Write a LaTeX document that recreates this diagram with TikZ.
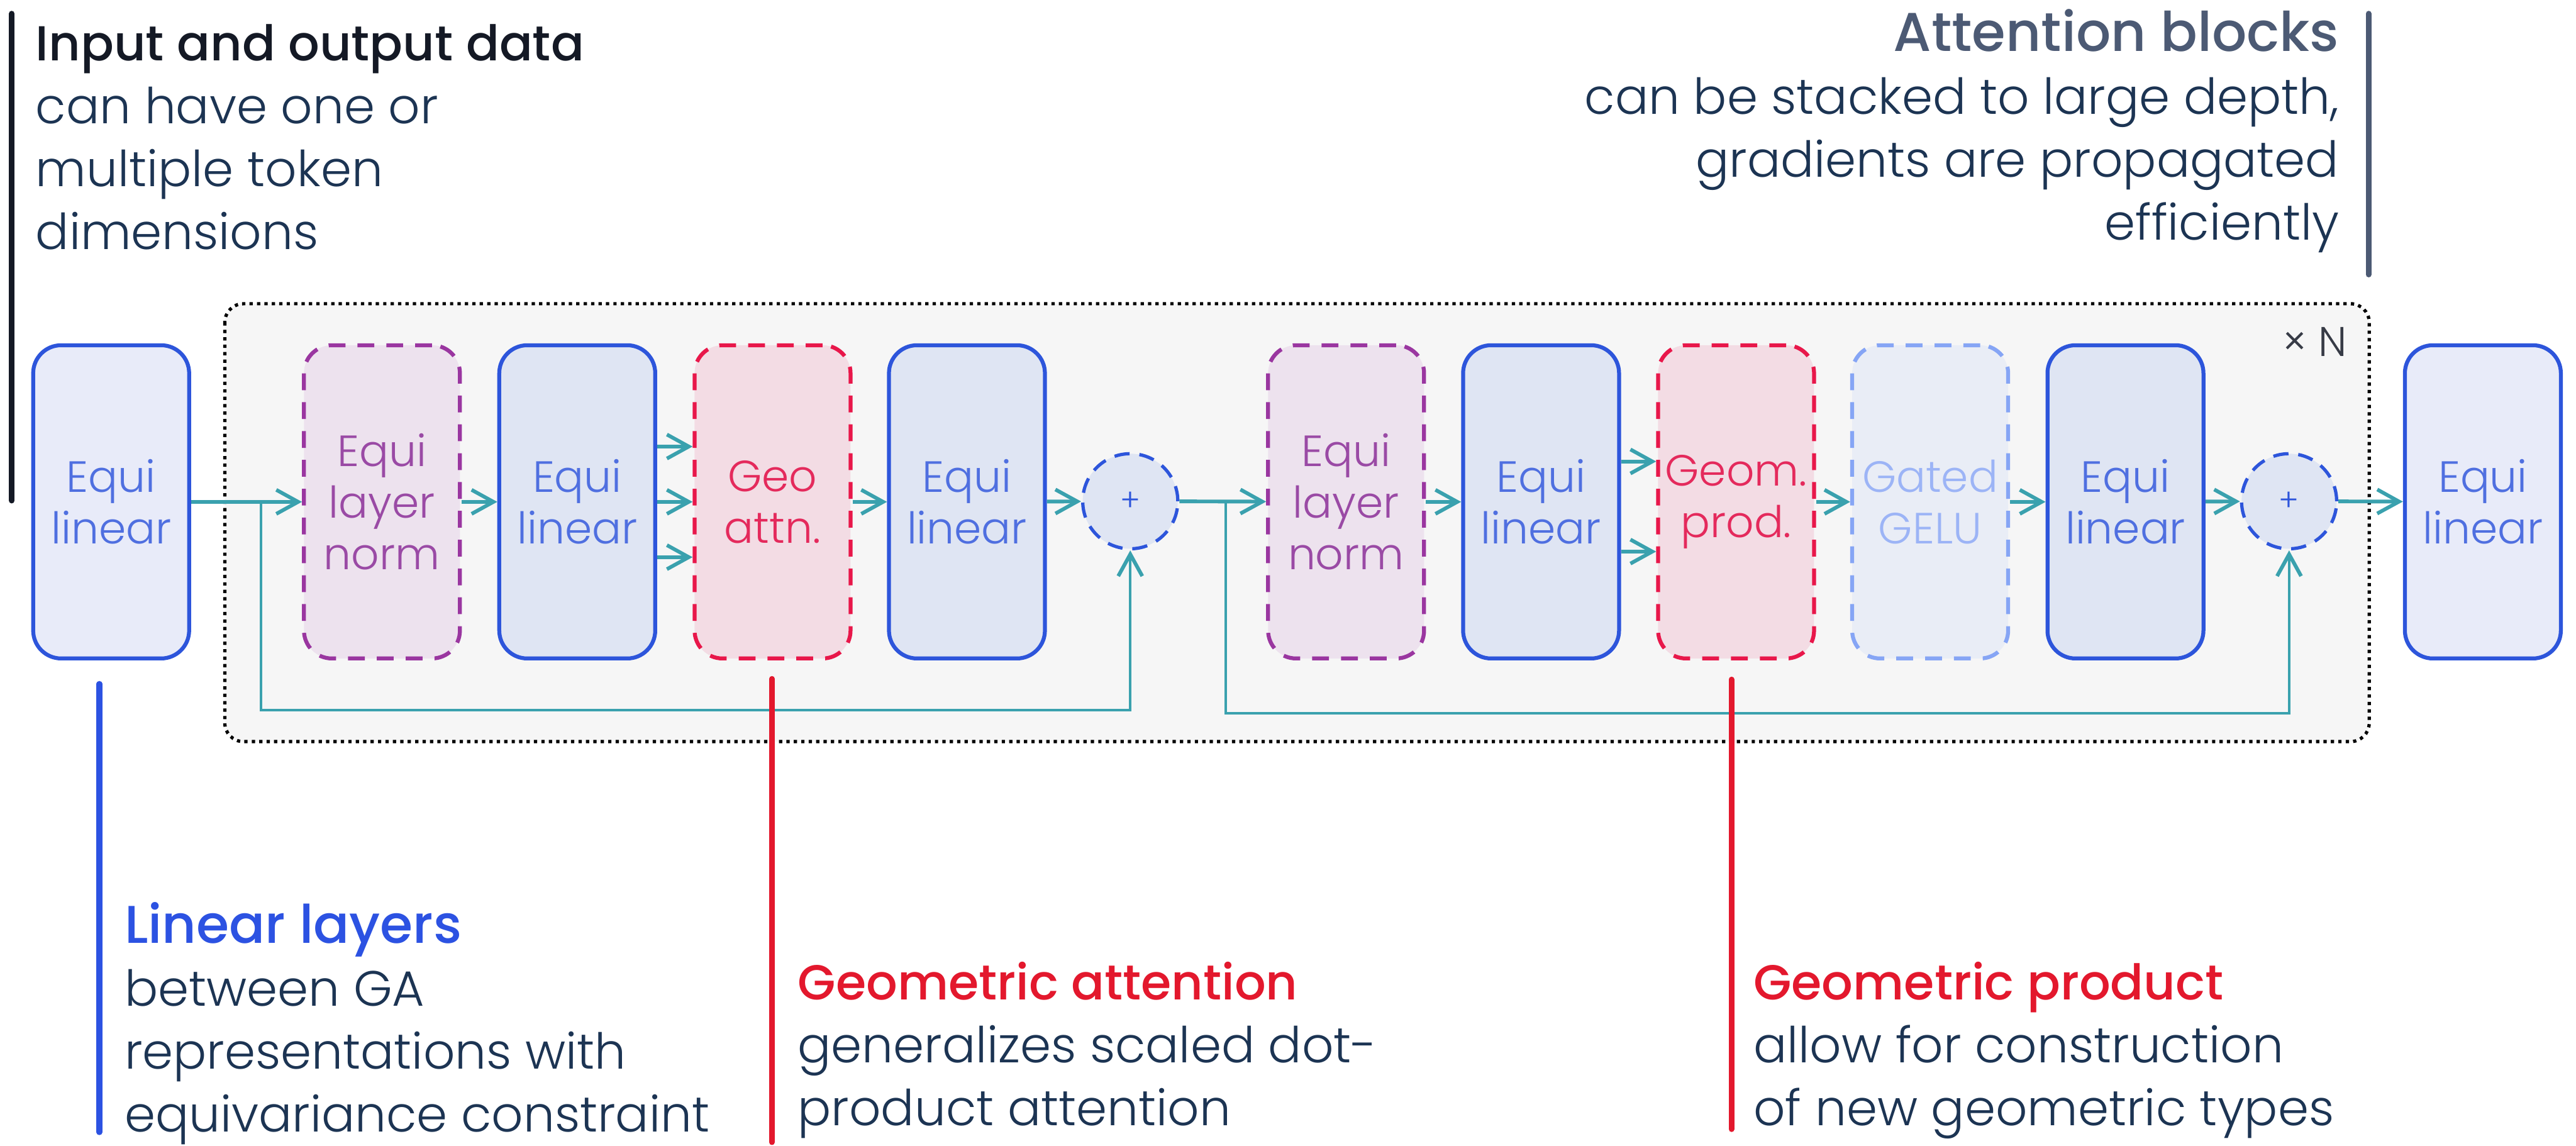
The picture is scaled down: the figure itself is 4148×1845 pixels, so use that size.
\documentclass[tikz,border=0pt]{standalone}
\usepackage{fontspec}
\usetikzlibrary{arrows.meta}
\newfontfamily\lightf{Poppins Light}
\newfontfamily\medf{Poppins Medium}
\definecolor{cBlue}{HTML}{2D55DB}
\definecolor{cBlueTxt}{HTML}{4F6FE0}
\definecolor{cBlueFillA}{HTML}{E8EBF9}
\definecolor{cBlueFillB}{HTML}{DFE5F3}
\definecolor{cPurple}{HTML}{9A36A0}
\definecolor{cPurpleFill}{HTML}{EDE2EE}
\definecolor{cPurpleTxt}{HTML}{9A4AA5}
\definecolor{cRed}{HTML}{E8174A}
\definecolor{cRedFill}{HTML}{F3DCE4}
\definecolor{cRedTxt}{HTML}{E42A5C}
\definecolor{cGelu}{HTML}{86A5F5}
\definecolor{cGeluFill}{HTML}{E9EDF6}
\definecolor{cGeluTxt}{HTML}{9CB4F6}
\definecolor{cArrow}{HTML}{3AA1AE}
\definecolor{cBox}{HTML}{F6F6F6}
\definecolor{cInk}{HTML}{1C3453}
\definecolor{cBlack}{HTML}{141925}
\definecolor{cSlate}{HTML}{4C5A74}
\definecolor{cAnnBlue}{HTML}{2C52E2}
\definecolor{cAnnRed}{HTML}{E3182D}
\tikzset{
  layer/.style={rectangle, rounded corners=0.45cm, minimum width=2.51cm,
    minimum height=5.04cm, line width=1.8pt, align=center, inner sep=0pt,
    font=\lightf\fontsize{20}{23.6}\selectfont},
  lin/.style={layer, draw=cBlue, fill=cBlueFillB, text=cBlueTxt},
  linout/.style={lin, fill=cBlueFillA},
  dashbox/.style={layer, dash pattern=on 7.7pt off 5.5pt},
  norm/.style={dashbox, draw=cPurple, fill=cPurpleFill, text=cPurpleTxt},
  geo/.style={dashbox, draw=cRed, fill=cRedFill, text=cRedTxt},
  gelu/.style={dashbox, draw=cGelu, fill=cGeluFill, text=cGeluTxt},
  plus/.style={circle, minimum size=1.53cm, inner sep=0pt, draw=cBlue,
    fill=cBlueFillB, line width=1.5pt, dash pattern=on 7pt off 4.5pt,
    text=cBlue, font=\lightf\fontsize{14}{16}\selectfont},
  tip/.tip={Straight Barb[length=10pt, width=11pt, line width=1.7pt]},
  flow/.style={draw=cArrow, line width=1.7pt, -tip},
  skip/.style={draw=cArrow, line width=1.15pt, -tip},
  stack/.style={draw=black, fill=cBox, line width=1.5pt,
    dash pattern=on 1.5pt off 1.9pt, rounded corners=0.3cm},
  bar/.style={line width=2.6pt, line cap=round},
  ann/.style={inner sep=0pt, text=cInk,
    font=\lightf\fontsize{22.7}{28.8}\selectfont},
  annbot/.style={ann, align=left, anchor=north west},
}
\newcommand{\ttlfont}{\medf\fontsize{22.5}{28.8}\selectfont}
\begin{document}
\begin{tikzpicture}[x=0.01cm, y=-0.01cm]
\useasboundingbox (0,0) rectangle (4148,1845);

% container of the repeated block
\draw[stack] (362,489) rectangle (3815,1194);
\node[font=\lightf\fontsize{19}{22}\selectfont, text=cBlack!85] (xn) at (3727,550) {× N};

% layers
\node[linout] (in)  at (179,808)    {Equi\\linear};
\node[norm]   (ln1) at (615,808)    {Equi\\layer\\norm};
\node[lin]    (l2)  at (929.5,808)  {Equi\\linear};
\node[geo]    (ga)  at (1244,808)   {Geo\\attn.};
\node[lin]    (l3)  at (1557,808)   {Equi\\linear};
\node[plus]   (p1)  at (1820,807)   {+};
\node[norm]   (ln2) at (2167.5,808) {Equi\\layer\\norm};
\node[lin]    (l4)  at (2481.5,808) {Equi\\linear};
\node[geo]    (gp)  at (2795.5,808) {Geom.\\prod.};
\node[gelu]   (gl)  at (3108,808)   {Gated\\GELU};
\node[lin]    (l5)  at (3422.5,808) {Equi\\linear};
\node[plus]   (p2)  at (3686,807)   {+};
\node[linout] (out) at (3998,808)   {Equi\\linear};

% flow
\coordinate (b1) at (420,808);
\coordinate (b2) at (1974,808);
\draw[flow] (in) -- (ln1);
\draw[skip] (b1) -- ++(0,335) -| (p1);
\draw[flow] (ln1) -- (l2);
\draw[flow] ([yshift=0.89cm]l2.east) -- ([yshift=0.89cm]ga.west);
\draw[flow] (l2) -- (ga);
\draw[flow] ([yshift=-0.89cm]l2.east) -- ([yshift=-0.89cm]ga.west);
\draw[flow] (ga) -- (l3);
\draw[flow] (l3) -- (p1);
\draw[flow] (p1) -- (ln2);
\draw[skip] (b2) -- ++(0,340) -| (p2);
\draw[flow] (ln2) -- (l4);
\draw[flow] ([yshift=0.65cm]l4.east) -- ([yshift=0.65cm]gp.west);
\draw[flow] ([yshift=-0.8cm]l4.east) -- ([yshift=-0.8cm]gp.west);
\draw[flow] (gp) -- (gl);
\draw[flow] (gl) -- (l5);
\draw[flow] (l5) -- (p2);
\draw[flow] (p2) -- (out);

% annotations
\draw[bar, draw=cBlack] (19,22) -- (19,806);
\node[ann, anchor=north west, align=left] (t1) at (57,38)
  {{\ttlfont\color{cBlack}Input and output data}\\can have one or\\multiple token\\dimensions};

\draw[bar, draw=cSlate] (3814,22) -- (3814,442);
\node[ann, anchor=north east, align=right] (t2) at (3767,14)
  {{\medf\fontsize{25}{28.8}\selectfont\color{cSlate}Attention blocks}\\can be stacked to large depth,\\gradients are propagated\\efficiently};

\draw[bar, draw=cAnnBlue] (160,1101) -- (160,1823);
\node[annbot] (t3) at (200,1452)
  {{\medf\fontsize{24.3}{28.8}\selectfont\color{cAnnBlue}Linear layers}\\between GA\\representations with\\equivariance constraint};

\draw[bar, draw=cAnnRed] (1243,1093) -- (1243,1839);
\node[annbot] (t4) at (1284,1548)
  {{\ttlfont\color{cAnnRed}Geometric attention}\\generalizes scaled dot-\\product attention};

\draw[bar, draw=cAnnRed] (2788,1094) -- (2788,1818);
\node[annbot] (t5) at (2823,1548)
  {{\ttlfont\color{cAnnRed}Geometric product}\\allow for construction\\of new geometric types};
\end{tikzpicture}
\end{document}
